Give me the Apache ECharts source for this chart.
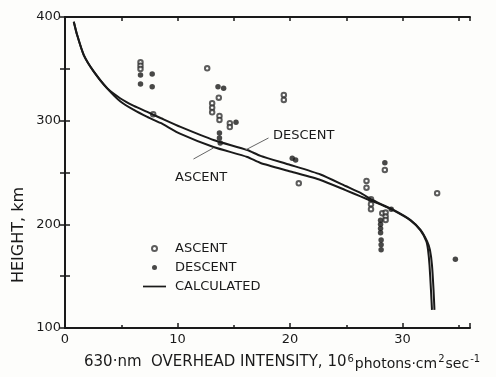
<!DOCTYPE html>
<html>
<head>
<meta charset="utf-8">
<script src="https://cdn.jsdelivr.net/npm/echarts@6/dist/echarts.min.js"></script>
<style>
  html, body { margin: 0; padding: 0; background: #fdfdfb; }
  #chart { width: 496px; height: 377px; }
</style>
</head>
<body>
<div id="chart"></div>
<script>
// measured points, [intensity (10^6 photons), height km]
const ascentObs = [
  [6.71, 356.3], [6.71, 353.0], [6.71, 349.9], [7.84, 306.2], [12.64, 350.5],
  [13.67, 322.2], [13.08, 316.8], [13.08, 312.5], [13.08, 308.1], [13.73, 304.5],
  [13.73, 300.7], [14.65, 297.5], [14.65, 293.8], [19.45, 324.8], [19.45, 320.0],
  [20.78, 239.6], [26.8, 241.9], [26.8, 235.4], [27.2, 224.2], [27.2, 219.4],
  [27.2, 214.6], [28.43, 252.5], [28.2, 210.7], [28.5, 211.4], [28.5, 207.5],
  [28.5, 204.2], [33.08, 230.0]
];
const descentObs = [
  [6.71, 344.1], [6.71, 335.4], [7.75, 345.0], [7.75, 332.8], [13.6, 332.8],
  [14.1, 331.2], [15.2, 298.4], [13.73, 288.1], [13.73, 283.3], [13.8, 278.5],
  [20.2, 263.7], [20.5, 262.1], [28.43, 259.5], [29.0, 214.5], [28.05, 204.0],
  [28.05, 200.0], [28.05, 196.0], [28.05, 192.0], [28.1, 185.0], [28.1, 180.3],
  [28.1, 175.5], [34.7, 166.3]
];
const ascentCalc = [
  [0.78, 395.5], [1.08, 382.6], [1.67, 363.3], [2.56, 347.3], [3.75, 331.2],
  [4.93, 318.5], [6.12, 310.3], [7.31, 303.6], [8.49, 297.8], [10.27, 287.2],
  [13.2, 274.6], [16.2, 265.0], [17.38, 259.2], [20.04, 251.0], [22.71, 242.8],
  [24.93, 233.0], [26.27, 226.9], [27.16, 223.0], [28.04, 219.2], [29.2, 213.4],
  [30.71, 203.8], [31.6, 194.1], [32.13, 183.3], [32.27, 175.3], [32.4, 160.8],
  [32.53, 136.7], [32.62, 117.5]
];
const descentCalc = [
  [0.78, 395.5], [1.08, 382.6], [1.67, 363.3], [2.56, 347.3], [3.75, 331.2],
  [4.93, 321.4], [6.12, 314.2], [7.31, 308.4], [8.49, 302.6], [10.27, 294.0],
  [13.2, 281.4], [16.2, 271.7], [17.38, 266.0], [20.04, 257.3], [22.71, 248.1],
  [24.93, 237.0], [26.27, 230.3], [27.16, 224.5], [28.04, 219.7], [29.2, 213.9],
  [30.71, 204.2], [31.6, 194.6], [32.2, 183.3], [32.44, 175.3], [32.62, 160.8],
  [32.76, 136.7], [32.84, 117.5]
];
// pointer lines for the ASCENT / DESCENT labels
const ascentPointer = [[11.42, 263.0], [13.2, 273.7]];
const descentPointer = [[18.09, 283.3], [16.04, 271.7]];

const ink = "#1a1a1a";
const font = "DejaVu Sans";

let chart = echarts.init(document.getElementById("chart"));
let frame = { show: true, lineStyle: { color: ink, width: 2 } };

let option = {
  backgroundColor: "#fdfdfb",
  animation: false,
  grid: { left: 65, right: 26, top: 17, bottom: 49 },
  legend: {
    orient: "vertical",
    left: 138,
    top: 237,
    itemWidth: 23,
    itemHeight: 5,
    itemGap: 6,
    textStyle: { fontFamily: font, fontSize: 13, color: ink, padding: [0, 0, 0, 4] },
    data: [
      { name: "ASCENT" },
      { name: "DESCENT" },
      { name: "CALCULATED", icon: "path://M0 0H40V3H0Z" },
    ],
  },
  xAxis: [
    {
      type: "value", position: "bottom", min: 0, max: 36, interval: 10,
      axisLine: frame,
      axisTick: { inside: true, length: 5, lineStyle: { color: ink, width: 1.5 } },
      axisLabel: {
        margin: 5, color: ink, fontFamily: font, fontSize: 13,
        formatter: (v) => (v % 10 === 0 ? v : ""),
      },
      splitLine: { show: false },
    },
    {
      type: "value", position: "bottom", min: 0, max: 36, interval: 5,
      axisLine: { show: false },
      axisTick: { inside: true, length: 3, lineStyle: { color: ink, width: 1.5 } },
      axisLabel: { show: false },
      splitLine: { show: false },
    },
    {
      type: "value", position: "top", min: 0, max: 36, interval: 5,
      axisLine: frame,
      axisTick: { inside: true, length: 4, lineStyle: { color: ink, width: 1.5 } },
      axisLabel: { show: false },
      splitLine: { show: false },
    },
  ],
  yAxis: [
    {
      type: "value", position: "left", min: 100, max: 400, interval: 100,
      axisLine: frame,
      axisTick: { inside: false, length: 4, lineStyle: { color: ink, width: 1.5 } },
      axisLabel: { margin: 4, color: ink, fontFamily: font, fontSize: 13 },
      splitLine: { show: false },
    },
    {
      type: "value", position: "left", min: 100, max: 400, interval: 50,
      axisLine: { show: false },
      axisTick: { inside: true, length: 5, lineStyle: { color: ink, width: 1.5 } },
      axisLabel: { show: false },
      splitLine: { show: false },
    },
    {
      type: "value", position: "right", min: 100, max: 400, interval: 50,
      axisLine: frame,
      axisTick: { inside: true, length: 5, lineStyle: { color: ink, width: 1.5 } },
      axisLabel: { show: false },
      splitLine: { show: false },
    },
  ],
  series: [
    {
      name: "CALCULATED", type: "line", data: ascentCalc, smooth: 0.2,
      symbol: "none", lineStyle: { color: ink, width: 2 }, itemStyle: { color: ink },
      markLine: {
        silent: true, symbol: "none", label: { show: false },
        lineStyle: { color: "#666", width: 1, type: "solid" },
        data: [
          [{ coord: ascentPointer[0] }, { coord: ascentPointer[1] }],
          [{ coord: descentPointer[0] }, { coord: descentPointer[1] }],
        ],
      },
    },
    {
      name: "CALCULATED", type: "line", data: descentCalc, smooth: 0.2,
      symbol: "none", lineStyle: { color: ink, width: 2 }, itemStyle: { color: ink },
    },
    {
      name: "ASCENT", type: "scatter", data: ascentObs, symbol: "emptyCircle", symbolSize: 4.5,
      itemStyle: { color: "#333", borderColor: "#333", borderWidth: 1.1 },
    },
    {
      name: "DESCENT", type: "scatter", data: descentObs, symbol: "circle", symbolSize: 5.5,
      itemStyle: { color: ink },
    },
  ],
  graphic: [
    {
      type: "text", left: 273, top: 129,
      style: { text: "DESCENT", font: "13px '" + font + "'", fill: ink },
    },
    {
      type: "text", left: 175, top: 171,
      style: { text: "ASCENT", font: "13px '" + font + "'", fill: ink },
    },
    {
      type: "text", left: 11, top: 187, rotation: Math.PI / 2,
      style: { text: "HEIGHT, km", font: "16px '" + font + "'", fill: ink },
    },
    {
      type: "text", left: 84, top: 354,
      style: {
        text: "{a|630·nm  OVERHEAD INTENSITY, 10}{s|6}{b|photons·cm}{s|2}{b|sec}{s|-1}",
        fill: ink,
        rich: {
          a: { fontFamily: font, fontSize: 15, color: ink, verticalAlign: "bottom" },
          b: { fontFamily: font, fontSize: 14, color: ink, verticalAlign: "bottom", padding: [0, 0, -1, 0] },
          s: { fontFamily: font, fontSize: 10, color: ink, verticalAlign: "top", padding: [0, 1, 6, 1] },
        },
      },
    },
  ],
};
chart.setOption(option);
</script>
</body>
</html>
